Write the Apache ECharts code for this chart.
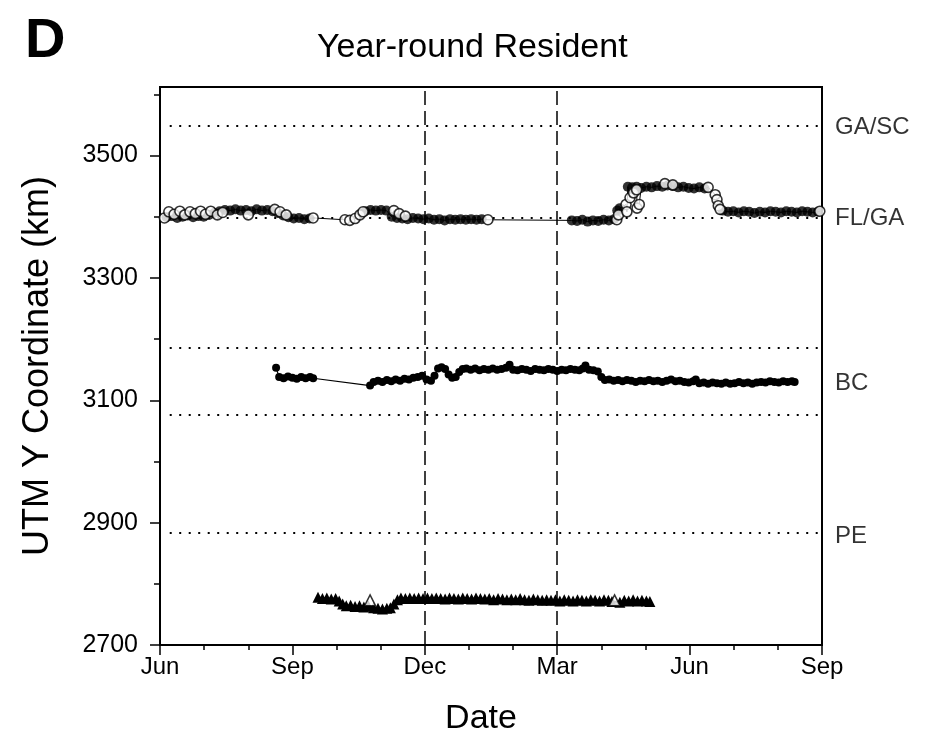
<!DOCTYPE html>
<html>
<head>
<meta charset="utf-8">
<script src="https://cdn.jsdelivr.net/npm/echarts@6/dist/echarts.min.js"></script>
<style>
  html, body { margin: 0; padding: 0; background: #fff; }
  #chart { width: 940px; height: 739px; }
</style>
</head>
<body>
<div id="chart"></div>
<script>
// x values are months counted from 1 June of the first year (0 = Jun 1, 15 = Sep 1 of the next year)
const monthNames = ['Jun', 'Sep', 'Dec', 'Mar', 'Jun', 'Sep'];
const yTickKm = [2700, 2900, 3100, 3300, 3500];
const yMinorKm = [2800, 3000, 3200, 3400, 3600];
const seasonMarks = [6, 9];                       // 1 Dec and 1 Mar
const boundaryKm = [3549, 3399, 3186, 3076, 2883]; // state / estuary boundaries
const regionNames = ['GA/SC', 'FL/GA', 'BC', 'PE'];
const regionKm = [3546, 3398, 3128, 2878];

// Fish tracked near the Florida/Georgia line: solid and open fixes
const flgaFilled = [
  [0.15,3399],[0.27,3401],[0.39,3398],[0.51,3400],[0.63,3402],[0.75,3399],[0.87,3401],[0.99,3400],
  [1.11,3403],[1.23,3406],[1.35,3409],[1.47,3411],[1.59,3410],[1.71,3412],[1.83,3410],[1.95,3411],
  [2.07,3409],[2.19,3412],[2.31,3410],[2.43,3411],[2.55,3409],[2.67,3406],[2.79,3402],[2.91,3399],
  [3.03,3397],[3.15,3398],[3.27,3396],[3.39,3397],
  [4.65,3409],[4.77,3411],[4.89,3410],[5.01,3411],[5.13,3410],
  [5.25,3400],[5.37,3398],[5.49,3397],[5.61,3396],[5.73,3398],[5.85,3397],[5.97,3396],[6.09,3397],
  [6.21,3395],[6.33,3396],[6.45,3394],[6.57,3396],[6.69,3395],[6.81,3396],[6.93,3395],[7.05,3396],
  [7.17,3395],[7.29,3396],
  [9.33,3394],[9.45,3393],[9.57,3395],[9.69,3392],[9.81,3394],[9.93,3393],[10.05,3395],[10.17,3394],
  [10.29,3396],[10.36,3410],[10.42,3414],[10.6,3449],[10.7,3448],[10.8,3449],
  [10.9,3447],[11.02,3449],[11.14,3448],[11.26,3450],[11.38,3449],[11.5,3451],[11.62,3450],[11.74,3448],
  [11.86,3449],[11.98,3447],[12.1,3446],[12.22,3448],[12.34,3446],
  [12.75,3410],[12.87,3408],[12.99,3409],[13.11,3407],[13.23,3409],[13.35,3408],[13.47,3406],[13.59,3408],
  [13.71,3407],[13.83,3409],[13.95,3408],[14.07,3407],[14.19,3409],[14.31,3408],[14.43,3407],[14.55,3409],
  [14.67,3408],[14.79,3407],[14.91,3408]
];
const flgaOpen = [
  [0.1,3398],[0.2,3408],[0.32,3404],[0.45,3409],[0.56,3403],[0.68,3408],[0.8,3405],[0.92,3409],
  [1.03,3404],[1.15,3409],[1.3,3403],[1.42,3407],[2.0,3403],[2.6,3412],[2.72,3408],[2.86,3403],[3.47,3398],
  [4.19,3395],[4.3,3394],[4.42,3397],[4.53,3403],[4.6,3408],[5.3,3410],[5.42,3405],[5.56,3401],[7.43,3395],
  [10.35,3395],[10.39,3403],[10.56,3420],[10.58,3408],[10.65,3431],[10.73,3439],[10.8,3444],[10.81,3414],
  [10.86,3420],[11.44,3454],[11.62,3452],[12.42,3448],[12.58,3436],[12.62,3428],[12.65,3418],[12.69,3412],
  [14.95,3409]
];

// Fish tracked in the BC estuary
const bcKm = [
  [2.63,3153],[2.7,3138],[2.8,3136],[2.9,3139],[3.0,3137],[3.1,3135],[3.2,3138],[3.3,3136],[3.4,3138],[3.47,3136],
  [4.76,3124],[4.84,3130],[4.94,3132],[5.04,3130],[5.14,3133],[5.24,3131],[5.34,3134],[5.44,3132],[5.54,3135],
  [5.64,3134],[5.74,3137],[5.84,3138],[5.94,3140],[6.04,3134],[6.14,3132],[6.22,3140],[6.3,3152],[6.38,3154],
  [6.46,3151],[6.54,3142],[6.62,3137],[6.7,3138],[6.78,3146],[6.86,3151],[6.94,3152],[7.04,3150],[7.14,3152],
  [7.24,3149],[7.34,3151],[7.44,3150],[7.54,3152],[7.64,3150],[7.74,3151],[7.84,3153],[7.92,3158],[8.0,3150],
  [8.1,3149],[8.2,3151],[8.3,3150],[8.4,3148],[8.5,3151],[8.6,3150],[8.7,3149],[8.8,3151],[8.9,3150],[9.0,3148],
  [9.1,3150],[9.2,3149],[9.3,3151],[9.4,3150],[9.5,3149],[9.58,3152],[9.64,3157],[9.72,3150],[9.82,3149],
  [9.92,3147],[10.0,3138],[10.08,3133],[10.18,3134],[10.28,3132],[10.38,3133],[10.48,3131],[10.58,3133],
  [10.68,3132],[10.78,3130],[10.88,3132],[10.98,3131],[11.08,3133],[11.18,3131],[11.28,3132],[11.38,3130],
  [11.48,3132],[11.58,3134],[11.68,3131],[11.78,3132],[11.88,3130],[11.98,3129],[12.08,3131],[12.14,3134],
  [12.22,3128],[12.32,3129],[12.42,3127],[12.52,3129],[12.62,3128],[12.72,3127],[12.82,3129],[12.92,3127],
  [13.02,3128],[13.12,3130],[13.22,3128],[13.32,3129],[13.42,3127],[13.52,3129],[13.62,3130],[13.72,3129],
  [13.82,3131],[13.92,3130],[14.02,3129],[14.12,3131],[14.22,3130],[14.32,3131],[14.38,3130]
];

// Fish tracked south of the PE boundary
const peKm = [
  [3.58,2778],[3.68,2776],[3.78,2777],[3.88,2775],[3.98,2776],[4.06,2772],[4.14,2767],[4.22,2764],[4.32,2765],
  [4.42,2763],[4.52,2764],[4.62,2762],[4.72,2764],[4.84,2761],[4.94,2760],[5.04,2759],[5.14,2760],[5.22,2761],
  [5.3,2767],[5.38,2774],[5.46,2777],[5.56,2776],[5.66,2777],[5.76,2776],[5.86,2777],[5.96,2776],[6.06,2777],
  [6.16,2776],[6.26,2777],[6.36,2776],[6.46,2775],[6.56,2777],[6.66,2776],[6.76,2775],[6.86,2777],[6.96,2776],
  [7.06,2775],[7.16,2777],[7.26,2776],[7.36,2775],[7.46,2776],[7.56,2774],[7.66,2776],[7.76,2775],[7.86,2774],
  [7.96,2775],[8.06,2774],[8.16,2776],[8.26,2774],[8.36,2773],[8.46,2775],[8.56,2774],[8.66,2773],[8.76,2774],
  [8.86,2773],[8.96,2774],[9.06,2772],[9.16,2774],[9.26,2773],[9.36,2772],[9.46,2774],[9.56,2773],[9.66,2772],
  [9.76,2774],[9.86,2773],[9.96,2772],[10.06,2774],[10.16,2773],[10.24,2771],[10.42,2770],[10.52,2773],
  [10.62,2772],[10.72,2774],[10.82,2772],[10.92,2773],[11.02,2772],[11.1,2771]
];
const peOpen = [[4.76,2773],[10.3,2773]];

const FONT = '"Liberation Sans", Arial, Helvetica, sans-serif';
const INK = '#000';

const flgaTrack = flgaFilled.concat(flgaOpen).sort((a, b) => a[0] - b[0]);

const chart = echarts.init(document.getElementById('chart'), null, { renderer: 'canvas' });

chart.setOption({
  animation: false,
  backgroundColor: '#fff',
  textStyle: { fontFamily: FONT, color: INK },
  title: [
    { text: 'D', left: 20, top: 9,
      textStyle: { fontFamily: FONT, fontSize: 56, fontWeight: 'bold', color: INK } },
    { text: 'Year-round Resident', left: 312, top: 26,
      textStyle: { fontFamily: FONT, fontSize: 34, fontWeight: 'normal', color: INK } }
  ],
  grid: {
    left: 160, right: 118, top: 87, bottom: 94,
    outerBoundsMode: 'none', containLabel: false,
    show: true, borderColor: INK, borderWidth: 2
  },
  xAxis: {
    type: 'value', min: 0, max: 15, interval: 3,
    name: 'Date', nameLocation: 'middle', nameGap: 57,
    nameTextStyle: { fontFamily: FONT, fontSize: 34, color: INK, padding: [0, 20, 0, 0] },
    axisLine: { lineStyle: { color: INK, width: 2 } },
    axisTick: { length: 10, lineStyle: { color: INK, width: 1.5 } },
    minorTick: { show: true, splitNumber: 3, length: 5, lineStyle: { color: INK, width: 1.5 } },
    axisLabel: { fontFamily: FONT, fontSize: 24, color: INK, margin: 10,
      formatter: v => monthNames[Math.round(v / 3)] },
    splitLine: { show: false }
  },
  yAxis: [
    {
      type: 'value', min: 2700, max: 3612, interval: 200,
      name: 'UTM Y Coordinate (km)', nameLocation: 'middle', nameGap: 104,
      nameTextStyle: { fontFamily: FONT, fontSize: 36, color: INK },
      axisLine: { show: true, lineStyle: { color: INK, width: 2 } },
      axisTick: { show: true, length: 10, customValues: yTickKm, lineStyle: { color: INK, width: 1.5 } },
      axisLabel: { fontFamily: FONT, fontSize: 25, color: INK, margin: 22, customValues: yTickKm,
        formatter: v => String(v) },
      splitLine: { show: false }
    },
    {
      type: 'value', min: 2700, max: 3612, position: 'left',
      axisLine: { show: false },
      axisTick: { show: true, length: 6, customValues: yMinorKm, lineStyle: { color: INK, width: 1.5 } },
      axisLabel: { show: false },
      splitLine: { show: false }
    }
  ],
  series: [
    {
      name: 'guides', type: 'line', data: [], silent: true,
      markLine: {
        symbol: 'none', silent: true, label: { show: false },
        data: seasonMarks.map(m => ({ xAxis: m, lineStyle: { color: INK, width: 1.5, type: [14, 6] } }))
          .concat(boundaryKm.map(v => [
            { coord: [0.22, v], lineStyle: { color: INK, width: 2, type: [2, 7.5] } },
            { coord: [15, v] }
          ]))
      }
    },
    {
      name: 'FL/GA track', type: 'line', data: flgaTrack, showSymbol: false,
      lineStyle: { color: INK, width: 1 }, z: 3
    },
    {
      name: 'FL/GA fixes', type: 'scatter', data: flgaFilled, symbol: 'circle', symbolSize: 10,
      itemStyle: { color: INK }, z: 4
    },
    {
      name: 'FL/GA open fixes', type: 'scatter', data: flgaOpen, symbol: 'circle', symbolSize: 10,
      itemStyle: { color: '#fff', borderColor: INK, borderWidth: 1.6 }, z: 5
    },
    {
      name: 'BC', type: 'line', data: bcKm, symbol: 'circle', symbolSize: 8, showSymbol: true,
      lineStyle: { color: INK, width: 1.2 }, itemStyle: { color: INK }, z: 4
    },
    {
      name: 'PE', type: 'line', data: peKm, symbol: 'triangle', symbolSize: 11, showSymbol: true,
      lineStyle: { color: INK, width: 2 }, itemStyle: { color: INK }, z: 4
    },
    {
      name: 'PE open', type: 'scatter', data: peOpen, symbol: 'triangle', symbolSize: 11,
      itemStyle: { color: '#fff', borderColor: INK, borderWidth: 1.5 }, z: 5
    },
    {
      name: 'regions', type: 'scatter', silent: true, symbolSize: 0,
      data: regionNames.map((n, i) => ({ value: [15, regionKm[i]], name: n })),
      label: { show: true, position: 'right', distance: 13, formatter: p => p.name,
        fontFamily: FONT, fontSize: 24, color: INK },
      clip: false, z: 6
    }
  ]
});
</script>
</body>
</html>
